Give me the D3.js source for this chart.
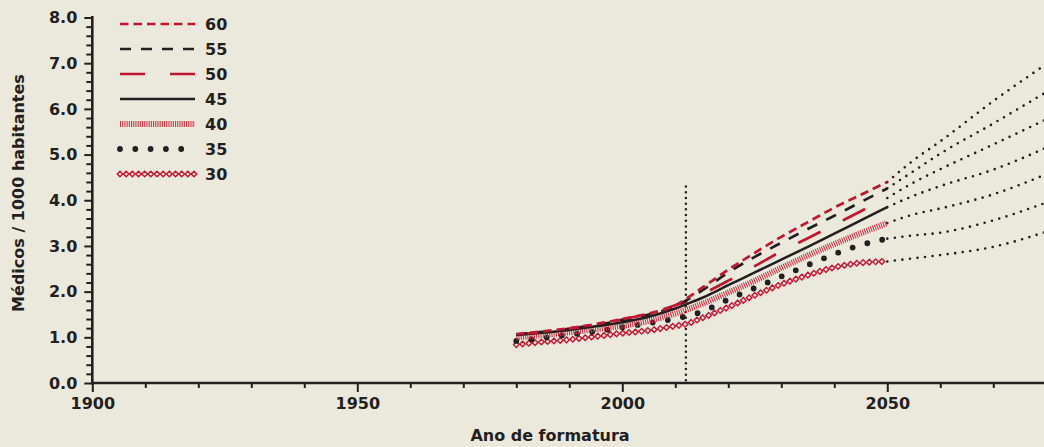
<!DOCTYPE html>
<html><head><meta charset="utf-8">
<script src="https://cdn.jsdelivr.net/npm/d3@7"></script>
<style>
body{margin:0;background:#ebe8dc;}
svg{display:block;}
text{font-family:"DejaVu Sans",sans-serif;font-weight:bold;fill:#231f20;}
</style>
</head><body>
<svg id="chart" width="1044" height="447"></svg>
<script>
// ---------- DATA ----------
const years = [1980,1985,1990,1995,2000,2005,2010,2012,2015,2020,2025,2030,2035,2040,2045,2050];
const s60 = [1.07,1.13,1.20,1.29,1.40,1.52,1.70,1.84,2.08,2.48,2.85,3.20,3.52,3.84,4.12,4.40];
const s55 = [1.06,1.12,1.18,1.27,1.37,1.50,1.68,1.80,2.02,2.42,2.76,3.07,3.37,3.66,3.96,4.26];
const s50 = [1.06,1.12,1.19,1.28,1.39,1.52,1.70,1.78,1.94,2.24,2.56,2.88,3.17,3.46,3.76,4.05];
const s45 = [1.05,1.10,1.16,1.24,1.33,1.45,1.63,1.72,1.86,2.14,2.42,2.70,2.98,3.27,3.56,3.85];
const s40 = [1.00,1.05,1.11,1.18,1.25,1.36,1.52,1.60,1.73,1.98,2.24,2.52,2.79,3.04,3.28,3.50];
const s35 = [0.92,0.99,1.06,1.13,1.22,1.31,1.41,1.46,1.56,1.83,2.08,2.33,2.58,2.82,3.02,3.16];
const s30 = [0.84,0.90,0.95,1.02,1.09,1.15,1.25,1.29,1.42,1.66,1.92,2.16,2.36,2.53,2.63,2.66];

const extYears = [2050,2055,2060,2070,2080];
const e60 = [4.40,4.88,5.29,6.17,6.98];
const e55 = [4.26,4.64,5.02,5.68,6.37];
const e50 = [4.05,4.39,4.68,5.22,5.77];
const e45 = [3.85,4.10,4.31,4.67,5.15];
const e40 = [3.50,3.69,3.82,4.13,4.57];
const e35 = [3.16,3.23,3.29,3.56,3.95];
const e30 = [2.66,2.73,2.80,2.98,3.31];

const seriesNames = ["60","55","50","45","40","35","30"];
const xMajorTicks = [1900,1950,2000,2050];
const xMinorTicks = [1910,1920,1930,1940,1960,1970,1980,1990,2010,2020,2030,2040,2060,2070];
const yMajorTicks = [0,1,2,3,4,5,6,7,8];
const markerYear = 2012;
const markerTop = 4.3;
const xTitle = "Ano de formatura";
const yTitle = "Médicos / 1000 habitantes";

// ---------- STYLES ----------
const RED = "#c3152f", BLACK = "#231f20", BG = "#ebe8dc";
const styles = {
  "60": {color: RED, width: 2.7, dash: "8.5,5"},
  "55": {color: BLACK, width: 2.7, dash: "11,10"},
  "50": {color: RED, width: 2.7, dash: "25,25"},
  "45": {color: BLACK, width: 2.5, dash: null},
  "40": {color: "#c93a4d", width: 6, dash: "1.1,1.1"},
  "35": {color: BLACK, width: 5.8, dash: "0,15.3", cap: "round"},
  "30": {diamond: true}
};
const seriesData = {"60": s60, "55": s55, "50": s50, "45": s45, "40": s40, "35": s35, "30": s30};
const extData = {"60": e60, "55": e55, "50": e50, "45": e45, "40": e40, "35": e35, "30": e30};

// ---------- SCALES ----------
const svg = d3.select("#chart");
const x = d3.scaleLinear().domain([1900, 2080]).range([92.3, 92.3 + 180 * 5.3]);
const y = d3.scaleLinear().domain([0, 8]).range([383, 17.5]);

svg.append("rect").attr("width", 1044).attr("height", 447).attr("fill", BG);

// ---------- AXES ----------
const yMinor = d3.range(0, 8.001, 0.2).filter(v => Math.abs(v - Math.round(v)) > 1e-6);
const gyMinor = svg.append("g").attr("transform", `translate(${x(1900)},0)`)
  .call(d3.axisLeft(y).tickValues(yMinor).tickSize(6).tickFormat(""));
const gyMajor = svg.append("g").attr("transform", `translate(${x(1900)},0)`)
  .call(d3.axisLeft(y).tickValues(yMajorTicks).tickSize(8).tickPadding(7).tickFormat(d3.format(".1f")));
const gxMinor = svg.append("g").attr("transform", `translate(0,${y(0)})`)
  .call(d3.axisBottom(x).tickValues(xMinorTicks).tickSize(5).tickFormat(""));
const gxMajor = svg.append("g").attr("transform", `translate(0,${y(0)})`)
  .call(d3.axisBottom(x).tickValues(xMajorTicks).tickSize(9).tickPadding(6).tickFormat(d3.format("d")));
[gyMinor, gyMajor, gxMinor, gxMajor].forEach(g => {
  g.select(".domain").remove();
  g.selectAll(".tick line").attr("stroke", BLACK).attr("stroke-width", 2);
  g.selectAll(".tick text").style("font-size", "16px").style("font-family", '"DejaVu Sans",sans-serif')
    .style("font-weight", "bold").attr("fill", BLACK);
});
svg.append("line").attr("x1", x(1900)).attr("x2", x(1900)).attr("y1", y(8) - 1.5).attr("y2", y(0) + 1.2)
  .attr("stroke", BLACK).attr("stroke-width", 2.6);
svg.append("line").attr("x1", x(1900) - 1.2).attr("x2", 1044).attr("y1", y(0)).attr("y2", y(0))
  .attr("stroke", BLACK).attr("stroke-width", 2.6);

svg.append("text").attr("x", 550).attr("y", 441).attr("text-anchor", "middle")
  .style("font-size", "16px").text(xTitle);
svg.append("text").attr("transform", "translate(24,193) rotate(-90)").attr("text-anchor", "middle")
  .style("font-size", "16px").text(yTitle);

// ---------- VERTICAL MARKER ----------
svg.append("line").attr("x1", x(markerYear)).attr("x2", x(markerYear))
  .attr("y1", y(markerTop)).attr("y2", y(0))
  .attr("stroke", BLACK).attr("stroke-width", 2.5).attr("stroke-linecap", "round")
  .attr("stroke-dasharray", "0,5.7");

// ---------- LINES ----------
const line = d3.line().x(d => x(d[0])).y(d => y(d[1])).curve(d3.curveMonotoneX);

function diamondsAlong(pathNode, spacing, g) {
  const L = pathNode.getTotalLength();
  const pts = [];
  for (let s = 0; s <= L + 0.01; s += spacing) pts.push(pathNode.getPointAtLength(Math.min(s, L)));
  g.selectAll(null).data(pts).enter().append("path")
    .attr("d", "M0,-2.8L2.8,0L0,2.8L-2.8,0Z")
    .attr("transform", p => `translate(${p.x},${p.y})`)
    .attr("fill", BG).attr("stroke", RED).attr("stroke-width", 1.4);
}

// extrapolations (dotted)
seriesNames.forEach(n => {
  const pts = extYears.map((yr, i) => [yr, extData[n][i]]);
  svg.append("path").attr("d", line(pts)).attr("fill", "none")
    .attr("stroke", BLACK).attr("stroke-width", 2.6).attr("stroke-linecap", "round")
    .attr("stroke-dasharray", "0,7.6");
});

// main series, draw bottom ones first
const order = ["30","35","40","45","50","55","60"];
order.forEach(n => {
  const st = styles[n];
  const pts = years.map((yr, i) => [yr, seriesData[n][i]]);
  if (st.diamond) {
    const p = svg.append("path").attr("d", line(pts)).attr("fill", "none").attr("stroke", "none");
    diamondsAlong(p.node(), 6.3, svg.append("g"));
  } else {
    const p = svg.append("path").attr("d", line(pts)).attr("fill", "none")
      .attr("stroke", st.color).attr("stroke-width", st.width);
    if (st.dash) p.attr("stroke-dasharray", st.dash);
    if (st.cap) p.attr("stroke-linecap", st.cap);
  }
});

// ---------- LEGEND ----------
const lg = svg.append("g");
seriesNames.forEach((n, i) => {
  const st = styles[n];
  const yy = 24 + i * 25;
  if (st.diamond) {
    const p = lg.append("path").attr("d", `M120,${yy}L194,${yy}`).attr("stroke", "none");
    diamondsAlong(p.node(), 74 / 12, lg);
  } else {
    const l = lg.append("line").attr("x1", 120).attr("x2", st.cap ? 196.5 : 195)
      .attr("y1", yy).attr("y2", yy).attr("stroke", st.color).attr("stroke-width", st.width);
    if (st.dash) l.attr("stroke-dasharray", st.dash);
    if (st.cap) l.attr("stroke-linecap", st.cap);
  }
  lg.append("text").attr("x", 205).attr("y", yy).attr("dy", "0.36em")
    .style("font-size", "16px").text(n);
});
</script>
</body></html>
